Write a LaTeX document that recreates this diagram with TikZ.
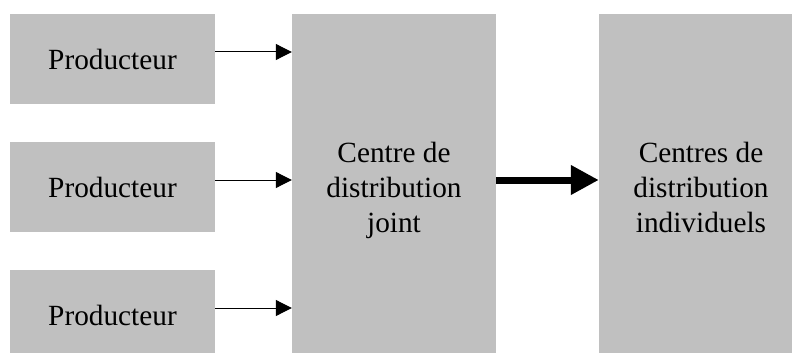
\documentclass[tikz,border=0pt]{standalone}
\usepackage{fontspec}
\setmainfont{Liberation Serif}
\usetikzlibrary{arrows.meta}
\definecolor{boxgray}{RGB}{192,192,192}
\begin{document}
\begin{tikzpicture}[x=1pt,y=-1pt,
  box/.style={fill=boxgray, draw=none, inner sep=0pt, align=center,
    font=\fontsize{29.3}{35}\selectfont},
  prodbox/.style={box, minimum width=205pt, minimum height=90pt},
  bigbox/.style={box, minimum width=204pt, minimum height=346pt},
  thinarrow/.style={draw=black, line width=1pt, -{Triangle[length=16pt,width=16pt]}},
  thickarrow/.style={draw=black, line width=7pt, -{Triangle[length=28pt,width=28pt]}}]
\useasboundingbox (0,0) rectangle (792,353);
\clip (0,0) rectangle (792,353);
\node[prodbox] (p1) at (112.5,59) {Producteur};
\node[prodbox] (p2) at (112.5,187) {Producteur};
\node[prodbox] (p3) at (112.5,315) {Producteur};
\node[bigbox] (mid) at (394,187) {Centre de\\distribution\\\smash{j}oint};
\node[bigbox] (ind) at (701,187) {Centres de\\distribution\\individuels};
\draw[thinarrow] ([yshift=7pt]p1.east) -- ([yshift=7pt]p1.east -| mid.west);
\draw[thinarrow] ([yshift=7pt]p2.east) -- ([yshift=7pt]p2.east -| mid.west);
\draw[thinarrow] ([yshift=7pt]p3.east) -- ([yshift=7pt]p3.east -| mid.west);
\draw[thickarrow] ([yshift=7pt]mid.east) -- ([yshift=7pt]ind.west);
\end{tikzpicture}
\end{document}
